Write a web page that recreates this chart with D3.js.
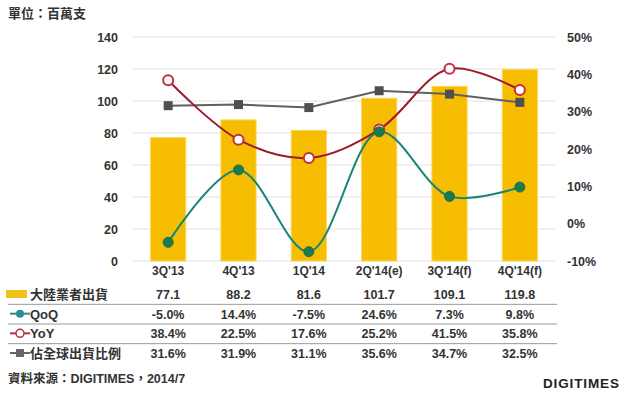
<!DOCTYPE html>
<html>
  <head>
    <meta charset="utf-8" />
    <script src="https://d3js.org/d3.v7.min.js"></script>
    <style>
      body { margin: 0; background: #fff; }
      text { font-family: "Liberation Sans", Arial, "Noto Sans CJK TC", sans-serif; }
    </style>
  </head>
  <body>
    <svg width="627" height="397"></svg>
    <script>
      // data
      const quarters = ["3Q'13", "4Q'13", "1Q'14", "2Q'14(e)", "3Q'14(f)", "4Q'14(f)"];
      const shipments = [77.1, 88.2, 81.6, 101.7, 109.1, 119.8];
      const qoq = [-5.0, 14.4, -7.5, 24.6, 7.3, 9.8];
      const yoy = [38.4, 22.5, 17.6, 25.2, 41.5, 35.8];
      const share = [31.6, 31.9, 31.1, 35.6, 34.7, 32.5];
      const leftTicks = [0, 20, 40, 60, 80, 100, 120, 140];
      const rightTicks = [-10, 0, 10, 20, 30, 40, 50];

      const svg = d3.select("svg");
      const fontCJK = "'Liberation Sans', 'Noto Sans CJK TC', sans-serif";
      const txt = "#333";

      const x = d3.scaleBand().domain(quarters).range([133, 555]).paddingInner(0.5).paddingOuter(0.25);
      const yL = d3.scaleLinear().domain([0, 140]).range([261, 37]);
      const yR = d3.scaleLinear().domain([-10, 50]).range([261, 37]);
      const cx = (i) => x(quarters[i]) + x.bandwidth() / 2;

      // gridlines
      svg.append("g")
        .selectAll("line")
        .data(leftTicks)
        .join("line")
        .attr("x1", 133).attr("x2", 555)
        .attr("y1", (d) => yL(d)).attr("y2", (d) => yL(d))
        .attr("stroke", "#e2e2e2").attr("stroke-width", 1);

      // axes
      const axL = svg.append("g").attr("transform", "translate(133,0)")
        .call(d3.axisLeft(yL).tickValues(leftTicks).tickSize(0).tickPadding(15));
      const axR = svg.append("g").attr("transform", "translate(555,0)")
        .call(d3.axisRight(yR).tickValues(rightTicks).tickSize(0).tickPadding(12).tickFormat((d) => d + "%"));
      [axL, axR].forEach((a) => {
        a.select(".domain").remove();
        a.selectAll("text").attr("font-size", 12.5).attr("font-weight", "bold").attr("fill", txt)
          .style("font-family", "'Liberation Sans', Arial, sans-serif");
      });

      // bars
      svg.append("g")
        .selectAll("rect")
        .data(shipments)
        .join("rect")
        .attr("x", (d, i) => x(quarters[i]))
        .attr("y", (d) => yL(d))
        .attr("width", x.bandwidth())
        .attr("height", (d) => yL(0) - yL(d))
        .attr("fill", "#f7bd00")
        .attr("stroke", "#fad75a").attr("stroke-width", 1);

      // lines
      const smooth = d3.line().x((d, i) => cx(i)).y((d) => yR(d)).curve(d3.curveCatmullRom.alpha(0.5));
      const straight = d3.line().x((d, i) => cx(i)).y((d) => yR(d));

      svg.append("path").attr("d", straight(share)).attr("fill", "none").attr("stroke", "#606060").attr("stroke-width", 2);
      svg.append("path").attr("d", smooth(yoy)).attr("fill", "none").attr("stroke", "#9b1c2c").attr("stroke-width", 2);
      svg.append("path").attr("d", smooth(qoq)).attr("fill", "none").attr("stroke", "#17857a").attr("stroke-width", 2);

      svg.append("g").selectAll("rect").data(share).join("rect")
        .attr("x", (d, i) => cx(i) - 4.5).attr("y", (d) => yR(d) - 4.5)
        .attr("width", 9).attr("height", 9).attr("fill", "#4f4f4f");
      svg.append("g").selectAll("circle").data(yoy).join("circle")
        .attr("cx", (d, i) => cx(i)).attr("cy", (d) => yR(d)).attr("r", 5)
        .attr("fill", "#fff").attr("stroke", "#c0303f").attr("stroke-width", 2);
      svg.append("g").selectAll("circle").data(qoq).join("circle")
        .attr("cx", (d, i) => cx(i)).attr("cy", (d) => yR(d)).attr("r", 5)
        .attr("fill", "#1d7a4e").attr("stroke", "#1d6e4a").attr("stroke-width", 1);

      // category labels
      svg.append("g").selectAll("text").data(quarters).join("text")
        .attr("x", (d, i) => cx(i)).attr("y", 275)
        .attr("text-anchor", "middle").attr("font-size", 12).attr("font-weight", "bold").attr("fill", txt)
        .text((d) => d);

      // data table
      const rows = [
        { name: "大陸業者出貨", vals: shipments.map((d) => d.toFixed(1)) },
        { name: "QoQ", vals: qoq.map((d) => d.toFixed(1) + "%") },
        { name: "YoY", vals: yoy.map((d) => d.toFixed(1) + "%") },
        { name: "佔全球出貨比例", vals: share.map((d) => d.toFixed(1) + "%") },
      ];
      const rowY = d3.scalePoint().domain(d3.range(4)).range([294, 353]);

      svg.append("g").selectAll("line").data([0, 1, 2]).join("line")
        .attr("x1", 8).attr("x2", 557)
        .attr("y1", (d) => (rowY(d) + rowY(d + 1)) / 2 + 0.5)
        .attr("y2", (d) => (rowY(d) + rowY(d + 1)) / 2 + 0.5)
        .attr("stroke", "#9a9a9a").attr("stroke-width", 1);

      rows.forEach((r, ri) => {
        const y = rowY(ri);
        svg.append("text").attr("x", 30).attr("y", y + 5)
          .attr("font-size", 13).attr("font-weight", "bold").attr("fill", txt)
          .style("font-family", fontCJK).text(r.name);
        svg.append("g").selectAll("text").data(r.vals).join("text")
          .attr("x", (d, i) => cx(i)).attr("y", y + 5)
          .attr("text-anchor", "middle").attr("font-size", 12.5).attr("font-weight", "bold").attr("fill", txt)
          .text((d) => d);
      });

      // legend keys
      svg.append("rect").attr("x", 6).attr("y", rowY(0) - 4).attr("width", 21).attr("height", 8).attr("fill", "#f2c21b");
      svg.append("line").attr("x1", 10).attr("x2", 30).attr("y1", rowY(1)).attr("y2", rowY(1)).attr("stroke", "#2a8d95").attr("stroke-width", 2);
      svg.append("circle").attr("cx", 20).attr("cy", rowY(1)).attr("r", 4).attr("fill", "#2a8d95");
      svg.append("line").attr("x1", 10).attr("x2", 30).attr("y1", rowY(2)).attr("y2", rowY(2)).attr("stroke", "#b23040").attr("stroke-width", 2);
      svg.append("circle").attr("cx", 20).attr("cy", rowY(2)).attr("r", 4).attr("fill", "#fff").attr("stroke", "#b23040").attr("stroke-width", 1.5);
      svg.append("line").attr("x1", 10).attr("x2", 30).attr("y1", rowY(3)).attr("y2", rowY(3)).attr("stroke", "#666").attr("stroke-width", 2);
      svg.append("rect").attr("x", 16).attr("y", rowY(3) - 4).attr("width", 8).attr("height", 8).attr("fill", "#666");

      // titles and footer
      svg.append("text").attr("x", 8).attr("y", 18).attr("font-size", 13).attr("font-weight", "bold").attr("fill", txt)
        .style("font-family", fontCJK).text("單位：百萬支");
      svg.append("text").attr("x", 8).attr("y", 383).attr("font-size", 12.5).attr("font-weight", "bold").attr("fill", txt)
        .style("font-family", fontCJK).text("資料來源：DIGITIMES，2014/7");
      svg.append("text").attr("x", 543).attr("y", 388).attr("font-size", 13.5).attr("font-weight", "bold").attr("fill", "#222")
        .attr("textLength", 76).text("DIGITIMES");
    </script>
  </body>
</html>
